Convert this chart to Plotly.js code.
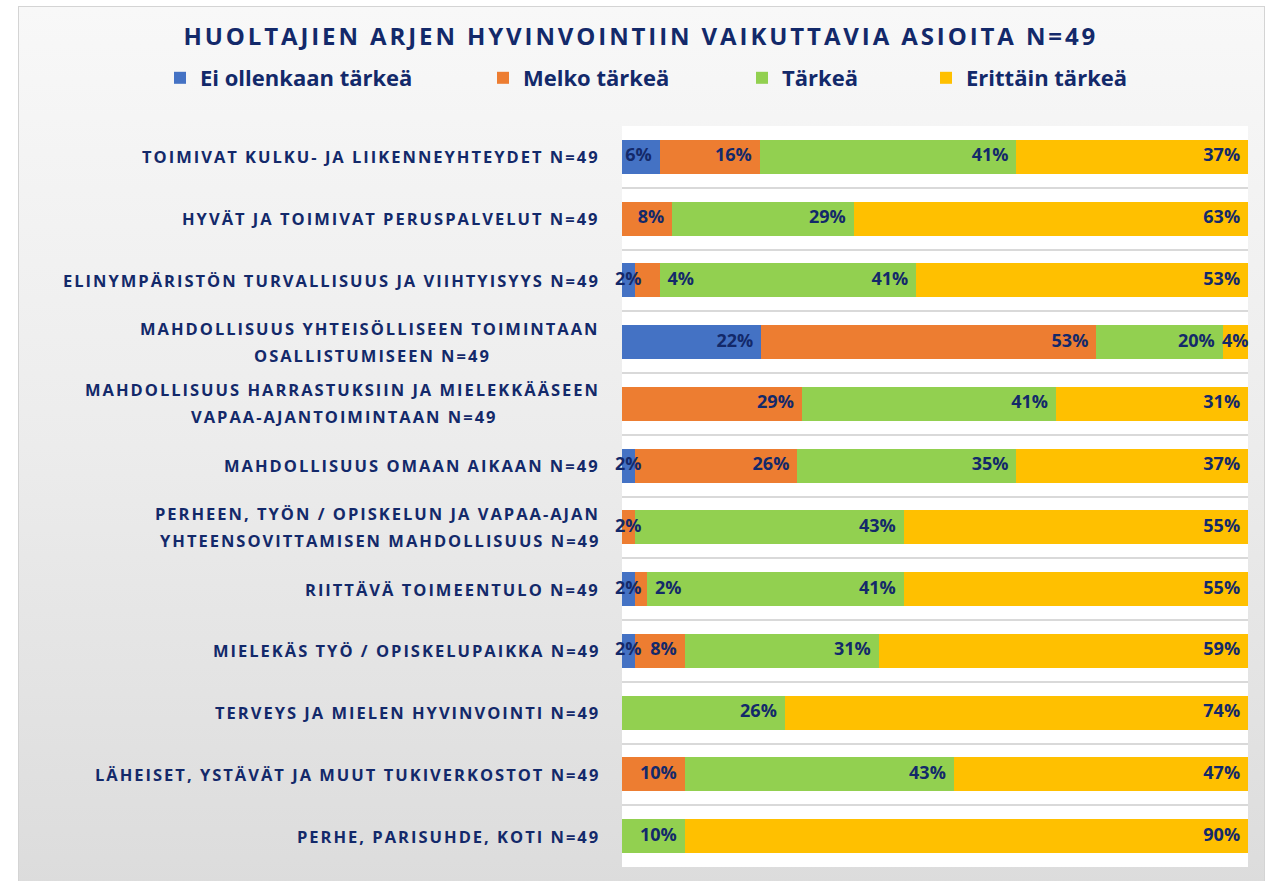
<!DOCTYPE html>
<html>
<head>
<meta charset="utf-8">
<script src="https://cdn.plot.ly/plotly-3.0.1.min.js"></script>
<style>
  html, body { margin: 0; padding: 0; background: #ffffff; width: 1274px; height: 881px; overflow: hidden; }
  #frame { position: absolute; left: 18px; top: 6px; width: 1247px; height: 880px;
           border: 1px solid #d4d4d4; box-sizing: border-box;
           background: linear-gradient(to bottom, #f8f8f8 0%, #ececec 50%, #dcdcdc 100%); }
  #chart { position: absolute; left: 0; top: 0; width: 1274px; height: 881px; }
  .annotation-text { letter-spacing: 2px; }
  .gtitle { letter-spacing: 2.9px; }
</style>
</head>
<body>
<div id="frame"></div>
<div id="chart"></div>
<script>
// ---- data ----
const categoryLines = [
  ["TOIMIVAT KULKU- JA LIIKENNEYHTEYDET N=49"],
  ["HYVÄT JA TOIMIVAT PERUSPALVELUT N=49"],
  ["ELINYMPÄRISTÖN TURVALLISUUS JA VIIHTYISYYS N=49"],
  ["MAHDOLLISUUS YHTEISÖLLISEEN TOIMINTAAN", "OSALLISTUMISEEN N=49"],
  ["MAHDOLLISUUS HARRASTUKSIIN JA MIELEKKÄÄSEEN", "VAPAA-AJANTOIMINTAAN N=49"],
  ["MAHDOLLISUUS OMAAN AIKAAN N=49"],
  ["PERHEEN, TYÖN / OPISKELUN JA VAPAA-AJAN", "YHTEENSOVITTAMISEN MAHDOLLISUUS N=49"],
  ["RIITTÄVÄ TOIMEENTULO N=49"],
  ["MIELEKÄS TYÖ / OPISKELUPAIKKA N=49"],
  ["TERVEYS JA MIELEN HYVINVOINTI N=49"],
  ["LÄHEISET, YSTÄVÄT JA MUUT TUKIVERKOSTOT N=49"],
  ["PERHE, PARISUHDE, KOTI N=49"]
];
const categories = categoryLines.map(l => l.join(" "));
const seriesNames = ["Ei ollenkaan tärkeä", "Melko tärkeä", "Tärkeä", "Erittäin tärkeä"];
const eiOllenkaan   = [6, 0, 2, 22, 0, 2, 0, 2, 2, 0, 0, 0];
const melkoTarkea   = [16, 8, 4, 53, 29, 26, 2, 2, 8, 0, 10, 0];
const tarkea        = [41, 29, 41, 20, 41, 35, 43, 41, 31, 26, 43, 10];
const erittainTarkea= [37, 63, 53, 4, 31, 37, 55, 55, 59, 74, 47, 90];
const chartTitle = "HUOLTAJIEN ARJEN HYVINVOINTIIN VAIKUTTAVIA ASIOITA N=49";

// ---- styling ----
const navy = "#13296a";
const colors = ["#4472C4", "#ED7D31", "#92D050", "#FFC000"];
const seriesValues = [eiOllenkaan, melkoTarkea, tarkea, erittainTarkea];
const legendIds = ["legend", "legend2", "legend3", "legend4"];
const legendTextStart = [202, 525, 784, 968];
const plotLeft = 622, plotWidth = 626, labelRight = 602;

const barTraces = seriesValues.map((vals, i) => ({
  type: "bar",
  orientation: "h",
  name: seriesNames[i],
  y: categories,
  x: vals,
  marker: { color: colors[i], line: { width: 0 } },
  hoverinfo: "skip",
  legend: legendIds[i]
}));

// value labels, placed on the normalised (100 %) stacks
const rowSums = categories.map((c, r) => seriesValues.reduce((s, v) => s + v[r], 0));
const labelTraces = seriesValues.map((vals, i) => {
  const xs = [], ys = [], ts = [], ps = [];
  vals.forEach((v, r) => {
    if (!v) return;
    let cum = 0;
    for (let j = 0; j <= i; j++) cum += seriesValues[j][r];
    const end = cum / rowSums[r] * 100;
    const prev = i > 0 ? seriesValues[i - 1][r] : 0;
    if (v >= 5) { xs.push(end); ps.push("middle left"); }
    else if (prev > 0 && prev < 5) { xs.push(end); ps.push("middle right"); }
    else { xs.push(end - v / rowSums[r] * 50); ps.push("middle center"); }
    ys.push(categories[r]);
    ts.push(v + "%");
  });
  return {
    type: "scatter", mode: "markers+text",
    x: xs, y: ys, text: ts, textposition: ps,
    marker: { size: 11, opacity: 0 },
    textfont: { family: "Open Sans", size: 18, weight: 700, color: navy },
    cliponaxis: false, showlegend: false, hoverinfo: "skip"
  };
});

const annotations = [];
const secondLineIdx = [];
categoryLines.forEach((lines, r) => {
  const two = lines.length > 1;
  annotations.push({
    text: lines[0], xref: "paper", yref: "y", x: (labelRight - plotLeft) / plotWidth, y: categories[r],
    xanchor: "right", yanchor: "middle", showarrow: false, yshift: two ? 14 : 0,
    font: { family: "Open Sans", size: 16.5, weight: 700, color: navy }
  });
  if (two) {
    secondLineIdx.push(annotations.length);
    annotations.push({
      text: lines[1], xref: "paper", yref: "y", x: (labelRight - plotLeft) / plotWidth, y: categories[r],
      xanchor: "center", yanchor: "middle", showarrow: false, yshift: -13,
      font: { family: "Open Sans", size: 16.5, weight: 700, color: navy }
    });
  }
});

const layout = {
  width: 1274, height: 881,
  paper_bgcolor: "rgba(0,0,0,0)",
  plot_bgcolor: "#ffffff",
  margin: { l: plotLeft, r: 1274 - plotLeft - plotWidth, t: 126, b: 14 },
  barmode: "stack",
  barnorm: "percent",
  bargap: 0.45,
  showlegend: true,
  title: {
    text: chartTitle,
    x: 0.503, xanchor: "center", xref: "container",
    y: 1 - 37 / 881, yanchor: "middle", yref: "container",
    font: { family: "Open Sans", size: 24, weight: 700, color: navy }
  },
  xaxis: { range: [0, 100], showgrid: false, zeroline: false, showticklabels: false, fixedrange: true },
  yaxis: {
    type: "category", categoryorder: "array", categoryarray: categories,
    range: [categories.length - 0.5, -0.5],
    showticklabels: false, ticks: "",
    showgrid: true, tickson: "boundaries", gridcolor: "#d9d9d9", gridwidth: 2,
    zeroline: false, fixedrange: true
  },
  annotations: annotations
};
legendIds.forEach((id, i) => {
  layout[id] = {
    orientation: "h",
    xref: "container", yref: "container",
    x: (legendTextStart[i] - 42) / 1274, xanchor: "left",
    y: 1 - 78 / 881, yanchor: "middle",
    bgcolor: "rgba(0,0,0,0)",
    font: { family: "Open Sans", size: 22, weight: 700, color: navy },
    itemclick: false, itemdoubleclick: false
  };
});

Plotly.newPlot("chart", barTraces.concat(labelTraces), layout, { displayModeBar: false, staticPlot: true })
  .then(gd => {
    // centre each second label line under its first line
    const upd = {};
    secondLineIdx.forEach(k => {
      const t = gd.querySelector('.annotation[data-index="' + (k - 1) + '"] .annotation-text');
      const w = t ? t.getBBox().width : 0;
      upd["annotations[" + k + "].x"] = (labelRight - w / 2 - plotLeft) / plotWidth;
    });
    return Plotly.relayout(gd, upd);
  });
</script>
</body>
</html>
